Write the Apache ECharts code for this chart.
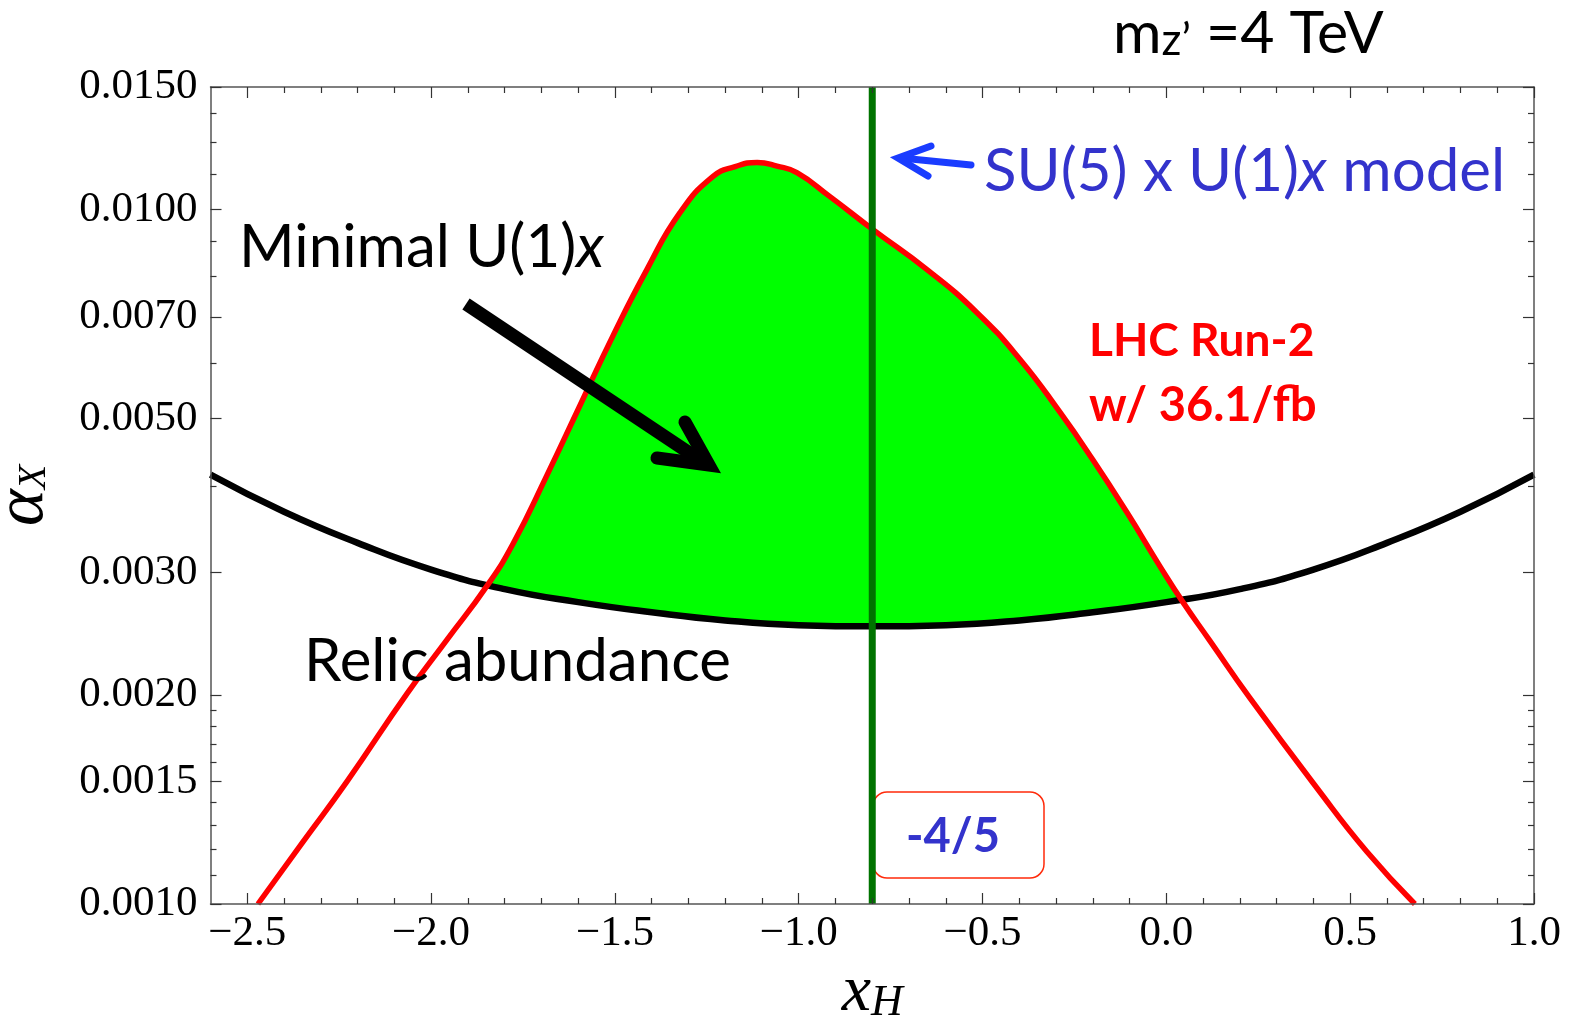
<!DOCTYPE html>
<html>
<head>
<meta charset="utf-8">
<script src="https://cdn.jsdelivr.net/npm/echarts@6/dist/echarts.min.js"></script>
<style>
html, body { margin: 0; padding: 0; background: #fff; }
#chart { width: 1572px; height: 1030px; }
</style>
</head>
<body>
<div id="chart"></div>
<script>
// Relic abundance curve: alpha_X versus x_H
const relicX = [-2.6, -2.4, -2.2, -2.0, -1.8, -1.6, -1.4, -1.2, -1.0, -0.8, -0.6, -0.4, -0.2, 0.0, 0.2, 0.4, 0.6, 0.8, 1.0];
const relicAlpha = [0.00415, 0.00367, 0.00331, 0.00303, 0.00284, 0.00272, 0.00263, 0.00256, 0.00252, 0.00251, 0.00252, 0.00256, 0.00263, 0.00272, 0.00284, 0.00303, 0.00331, 0.00367, 0.00415];

// LHC Run-2 (36.1/fb) upper bound on alpha_X
const lhcX = [-2.471, -2.348, -2.229, -2.065, -1.957, -1.848, -1.777, -1.685, -1.595, -1.505, -1.413, -1.323, -1.233, -1.173, -1.113, -1.059, -1.005, -0.915, -0.798, -0.651, -0.515, -0.398, -0.289, -0.200, -0.107, -0.017, 0.045, 0.119, 0.227, 0.409, 0.545, 0.676];
const lhcAlpha = [0.00100, 0.00123, 0.00150, 0.00201, 0.00240, 0.00287, 0.00330, 0.00414, 0.00522, 0.00658, 0.00819, 0.00989, 0.01115, 0.01152, 0.01168, 0.01154, 0.01129, 0.01043, 0.00935, 0.00819, 0.00710, 0.00608, 0.00510, 0.00436, 0.00366, 0.00306, 0.00272, 0.00239, 0.00198, 0.00147, 0.00119, 0.00100];

// SU(5) x U(1)_X charge assignment
const su5X = -0.8;

// Axis ticks
const xMin = -2.6, xMax = 1.0;
const xTickValues = [-2.5, -2.0, -1.5, -1.0, -0.5, 0.0, 0.5, 1.0];
const xTickLabels = ['\u22122.5', '\u22122.0', '\u22121.5', '\u22121.0', '\u22120.5', '0.0', '0.5', '1.0'];
const xMinorTicks = [-2.4, -2.3, -2.2, -2.1, -1.9, -1.8, -1.7, -1.6, -1.4, -1.3, -1.2, -1.1, -0.9, -0.8, -0.7, -0.6, -0.4, -0.3, -0.2, -0.1, 0.1, 0.2, 0.3, 0.4, 0.6, 0.7, 0.8, 0.9];
const yTickValues = [0.0010, 0.0015, 0.0020, 0.0030, 0.0050, 0.0070, 0.0100, 0.0150];
const yTickLabels = ['0.0010', '0.0015', '0.0020', '0.0030', '0.0050', '0.0070', '0.0100', '0.0150'];
const yMinorTicks = [0.0011, 0.0012, 0.0013, 0.0014, 0.0016, 0.0017, 0.0018, 0.0019, 0.0040, 0.0060, 0.0080, 0.0090, 0.01125, 0.0125, 0.01375];

const lg = Math.log10;
const yMin = lg(yTickValues[0]);
const yMax = lg(yTickValues[yTickValues.length - 1]);
const toPts = (xs, vs) => xs.map((x, i) => [x, lg(vs[i])]);

const serif = 'Liberation Serif';
const sans = 'Lato';
const frameColor = '#555';
const tickColor = '#333';

function fmtX(v) {
  const i = xTickValues.findIndex(t => Math.abs(t - v) < 1e-9);
  return i >= 0 ? xTickLabels[i] : '';
}
function fmtY(v) {
  const i = yTickValues.findIndex(t => Math.abs(lg(t) - v) < 1e-9);
  return i >= 0 ? yTickLabels[i] : '';
}

function makeX(position, ticks, len, labels, line) {
  return {
    type: 'value', position, min: xMin, max: xMax, z: 10,
    axisLine: { show: line, onZero: false, lineStyle: { color: frameColor, width: 1.5 } },
    axisTick: { show: true, inside: true, length: len, customValues: ticks, lineStyle: { color: tickColor, width: 1.2 } },
    axisLabel: labels
      ? { show: true, customValues: ticks, margin: 8, color: '#000', fontFamily: serif, fontSize: 43, formatter: fmtX }
      : { show: false },
    splitLine: { show: false }
  };
}
function makeY(position, ticks, len, labels, line) {
  const t = ticks.map(lg);
  return {
    type: 'value', position, min: yMin, max: yMax, z: 10,
    axisLine: { show: line, onZero: false, lineStyle: { color: frameColor, width: 1.5 } },
    axisTick: { show: true, inside: true, length: len, customValues: t, lineStyle: { color: tickColor, width: 1.2 } },
    axisLabel: labels
      ? { show: true, customValues: t, margin: 13, color: '#000', fontFamily: serif, fontSize: 43, formatter: fmtY }
      : { show: false },
    splitLine: { show: false }
  };
}

const xAxes = [
  makeX('bottom', xTickValues, 11, true, true),
  makeX('bottom', xMinorTicks, 6, false, false),
  makeX('top', xTickValues, 11, false, true),
  makeX('top', xMinorTicks, 6, false, false)
];
Object.assign(xAxes[0], {
  name: '{x|x}{h|H}', nameLocation: 'middle', nameGap: 52,
  nameTextStyle: { rich: {
    x: { fontFamily: serif, fontStyle: 'italic', fontSize: 66, color: '#000' },
    h: { fontFamily: serif, fontStyle: 'italic', fontSize: 44, color: '#000', padding: [22, 0, 0, 0] }
  } }
});
const yAxes = [
  makeY('left', yTickValues, 11, true, true),
  makeY('left', yMinorTicks, 6, false, false),
  makeY('right', yTickValues, 11, false, true),
  makeY('right', yMinorTicks, 6, false, false)
];
Object.assign(yAxes[0], {
  name: '{a|\u03b1}{b|X}', nameLocation: 'middle', nameGap: 152,
  nameTextStyle: { rich: {
    a: { fontFamily: serif, fontStyle: 'italic', fontSize: 70, color: '#000' },
    b: { fontFamily: serif, fontStyle: 'italic', fontSize: 40, color: '#000', padding: [22, 0, 0, 0] }
  } }
});

const lhcPts = toPts(lhcX, lhcAlpha);
const relicPts = toPts(relicX, relicAlpha);

const option = {
  animation: false,
  backgroundColor: '#fff',
  grid: { left: 210.5, right: 38, top: 87, bottom: 126, containLabel: false, outerBoundsMode: 'none' },
  xAxis: xAxes,
  yAxis: yAxes,
  series: [
    { // allowed region below the LHC bound
      type: 'line', data: lhcPts, smooth: 0.5, showSymbol: false, z: 1,
      lineStyle: { width: 0 }, areaStyle: { color: '#00ff00', opacity: 1, origin: 'start' }
    },
    { // overproduction region below the relic curve
      type: 'line', data: relicPts, smooth: 0.5, showSymbol: false, z: 2,
      lineStyle: { width: 0 }, areaStyle: { color: '#ffffff', opacity: 1, origin: 'start' }
    },
    {
      name: 'Relic abundance', type: 'line', data: relicPts, smooth: 0.5, showSymbol: false, z: 3,
      lineStyle: { color: '#000000', width: 6.5 }
    },
    {
      name: 'LHC Run-2', type: 'line', data: lhcPts, smooth: 0.5, showSymbol: false, z: 4,
      lineStyle: { color: '#ff0000', width: 5.5 }
    },
    {
      name: 'SU(5)', type: 'line', data: [[su5X, yMin], [su5X, yMax]], showSymbol: false, z: 6,
      lineStyle: { color: '#007300', width: 7 }
    }
  ],
  graphic: [
    { type: 'text', z: 20, x: 1113, y: 29, style: {
      text: '{m|m}{z|z\u2019}{r| =4 TeV}', verticalAlign: 'middle',
      rich: {
        m: { fontFamily: sans, fontSize: 59, lineHeight: 68, verticalAlign: 'bottom', fill: '#000' },
        z: { fontFamily: sans, fontSize: 44, lineHeight: 57, verticalAlign: 'bottom', fill: '#000' },
        r: { fontFamily: sans, fontSize: 59, lineHeight: 68, verticalAlign: 'bottom', fill: '#000' }
      } } },
    { type: 'text', z: 20, x: 984, y: 172, style: {
      text: '{a|SU(5) x U(1)}{i|x}{a| model}', verticalAlign: 'middle',
      rich: {
        a: { fontFamily: sans, fontSize: 60, fill: '#3333cc' },
        i: { fontFamily: sans, fontSize: 60, fontStyle: 'italic', fill: '#3333cc' }
      } } },
    { type: 'polyline', z: 20, shape: { points: [[971, 165], [901, 158]] },
      style: { stroke: '#1a3cff', lineWidth: 7, lineCap: 'round', fill: null } },
    { type: 'polyline', z: 20, shape: { points: [[931, 146], [898, 158], [928, 176]] },
      style: { stroke: '#1a3cff', lineWidth: 7, lineCap: 'round', lineJoin: 'miter', fill: null } },
    { type: 'text', z: 20, x: 239, y: 248, style: {
      text: '{a|Minimal U(1)}{i|x}', verticalAlign: 'middle',
      rich: {
        a: { fontFamily: sans, fontSize: 60, fill: '#000' },
        i: { fontFamily: sans, fontSize: 60, fontStyle: 'italic', fill: '#000' }
      } } },
    { type: 'polyline', z: 20, shape: { points: [[466, 304], [700, 460]] },
      style: { stroke: '#000', lineWidth: 13, lineCap: 'butt', fill: null } },
    { type: 'polyline', z: 20, shape: { points: [[657, 458], [709, 465], [685, 422]] },
      style: { stroke: '#000', lineWidth: 13, lineCap: 'round', lineJoin: 'miter', fill: null } },
    { type: 'text', z: 20, x: 1089, y: 341, style: {
      text: 'LHC Run-2', verticalAlign: 'middle', fontFamily: sans, fontSize: 46, fontWeight: 'bold', fill: '#ff0000' } },
    { type: 'text', z: 20, x: 1089, y: 406, style: {
      text: 'w/ 36.1/fb', verticalAlign: 'middle', fontFamily: sans, fontSize: 47, fontWeight: 'bold', fill: '#ff0000' } },
    { type: 'text', z: 20, x: 304, y: 662, style: {
      text: 'Relic abundance', verticalAlign: 'middle', fontFamily: sans, fontSize: 60, fill: '#000' } },
    { type: 'rect', z: 5, shape: { x: 873, y: 792, width: 171, height: 86, r: 14 },
      style: { fill: 'transparent', stroke: '#ff2a0a', lineWidth: 1.5 } },
    { type: 'text', z: 20, x: 953, y: 837, style: {
      text: '-4/5', align: 'center', verticalAlign: 'middle', fontFamily: sans, fontSize: 47, fontWeight: 'bold', fill: '#3333cc' } }
  ]
};

const chart = echarts.init(document.getElementById('chart'), null, { renderer: 'canvas' });
chart.setOption(option);
</script>
</body>
</html>
